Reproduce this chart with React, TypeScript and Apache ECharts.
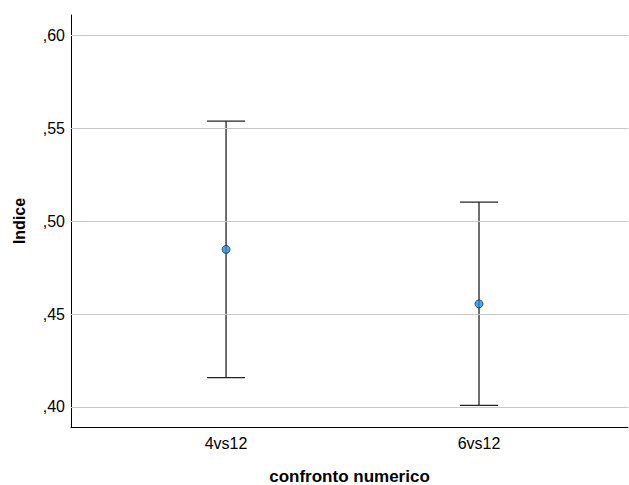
import React, { useEffect, useRef } from "react";
import * as echarts from "echarts";

const categories = ["4vs12", "6vs12"];
const means = [0.4848, 0.4555];
const lowers = [0.4158, 0.4008];
const uppers = [0.5539, 0.5103];
const yTicks = [0.4, 0.45, 0.5, 0.55, 0.6];
const catPositions = [0, 1];

const fmt = (v: number) => "," + Math.round(v * 100).toString().padStart(2, "0");

export default function App() {
  const ref = useRef<HTMLDivElement>(null);
  useEffect(() => {
    if (!ref.current) return;
    const chart = echarts.init(ref.current, null, { renderer: "svg" });
    const font = "'Liberation Sans', Arial, sans-serif";
    chart.setOption({
      animation: false,
      grid: { left: 71, top: 15, right: 1, bottom: 58, outerBoundsMode: "none", containLabel: false },
      xAxis: {
        type: "value",
        min: -0.613,
        max: 1.589,
        name: "confronto numerico",
        nameLocation: "middle",
        nameGap: 41,
        nameTextStyle: { fontFamily: font, fontSize: 17, fontWeight: "bold", color: "#000" },
        axisLine: { show: true, onZero: false, lineStyle: { color: "#000", width: 1 } },
        axisTick: { show: false },
        splitLine: { show: false },
        axisLabel: {
          customValues: catPositions,
          formatter: (v: number) => categories[Math.round(v)] ?? "",
          margin: 8,
          fontFamily: font,
          fontSize: 16,
          color: "#000",
        },
      },
      yAxis: {
        type: "value",
        min: 0.3892,
        max: 0.611,
        name: "Indice",
        nameLocation: "middle",
        nameGap: 44,
        nameTextStyle: { fontFamily: font, fontSize: 16, fontWeight: "bold", color: "#000" },
        axisLine: { show: true, onZero: false, lineStyle: { color: "#000", width: 1 } },
        axisTick: { show: false },
        splitLine: { show: false },
        axisLabel: {
          customValues: yTicks,
          formatter: (v: number) => fmt(v),
          margin: 6,
          fontFamily: font,
          fontSize: 16,
          color: "#000",
        },
      },
      series: [
        {
          type: "line",
          data: [],
          z: 1,
          silent: true,
          markLine: {
            silent: true,
            symbol: ["none", "none"],
            label: { show: false },
            lineStyle: { color: "#c8c8c8", width: 1, type: "solid" },
            data: yTicks.map((t) => ({ yAxis: t })),
          },
        },
        {
          type: "custom",
          z: 3,
          data: catPositions.map((p, i) => [p, lowers[i], uppers[i]]),
          renderItem: (params: any, api: any) => {
            const x = api.value(0);
            const lo = api.coord([x, api.value(1)]);
            const hi = api.coord([x, api.value(2)]);
            const hw = 19;
            const style = { stroke: "#222", lineWidth: 1.3 };
            return {
              type: "group",
              children: [
                { type: "line", shape: { x1: lo[0], y1: lo[1], x2: hi[0], y2: hi[1] }, style },
                { type: "line", shape: { x1: hi[0] - hw, y1: hi[1], x2: hi[0] + hw, y2: hi[1] }, style },
                { type: "line", shape: { x1: lo[0] - hw, y1: lo[1], x2: lo[0] + hw, y2: lo[1] }, style },
              ],
            };
          },
        },
        {
          type: "scatter",
          z: 4,
          symbol: "circle",
          symbolSize: 8,
          data: catPositions.map((p, i) => [p, means[i]]),
          itemStyle: { color: "#1f8fe0", borderColor: "#1a3550", borderWidth: 1 },
        },
      ],
    });
    return () => chart.dispose();
  }, []);
  return (
    <div
      ref={ref}
      style={{ position: "fixed", left: 0, top: 0, width: 629, height: 485, background: "#fff" }}
    />
  );
}
